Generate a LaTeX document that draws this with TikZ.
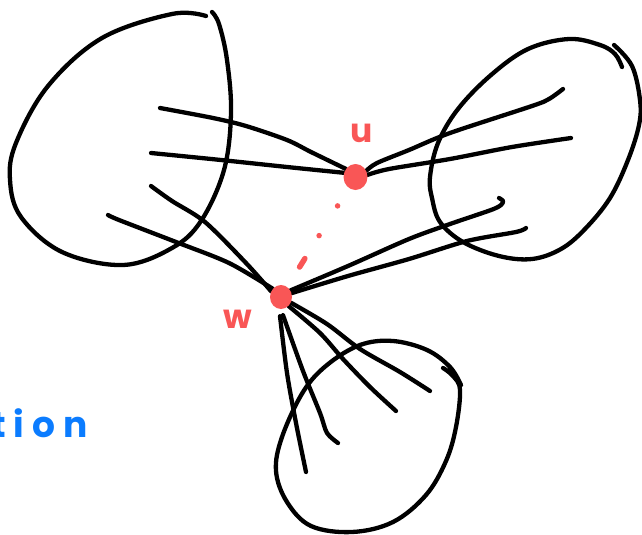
\documentclass[tikz,border=0pt]{standalone}
\usepackage{fontspec}
\usepackage{xcolor}
\usepackage{tikz}
\usetikzlibrary{arrows.meta,positioning,calc,backgrounds,shapes.geometric}
\newfontfamily\handfont{Poppins}
\definecolor{cInk}{HTML}{000000}
\definecolor{cRed}{HTML}{F95656}
\definecolor{cBlue}{HTML}{0B7CFF}
\tikzset{
  pen/.style={draw=cInk,line width=4.3pt,line cap=round,line join=round},
  blob/.style={pen},
  vtx/.style={ellipse,fill=cRed,draw=none,inner sep=0pt,minimum width=#1,minimum height=#1+2pt},
  vtx/.default=23pt,
  lbl/.style={font=\handfont\bfseries\fontsize{33}{33}\selectfont,text=cRed,inner sep=0pt},
  hint/.style={font=\handfont\bfseries\fontsize{36}{36}\selectfont\addfontfeatures{LetterSpace=22},text=cBlue,inner sep=0pt},
  link/.style={draw=cRed,line width=5.5pt,line cap=round,dash pattern=on 0pt off 34pt on 0pt off 35pt on 0pt off 27pt on 10pt off 60pt},
}

\begin{document}
\begin{tikzpicture}[x=1pt,y=-1pt]
  \useasboundingbox (0,0) rectangle (642,535);
  \clip (0,0) rectangle (642,535);
  \node[vtx=24pt] (u) at (355.5,177) {};
  \node[vtx=22pt] (w) at (281,297) {};
  \node[lbl] (ulab) at (362,133) {u};
  \node[lbl] (wlab) at (238,319) {w};
  \node[hint,anchor=base west] (tail) at (-9,437) {tion};
  \begin{scope}[on background layer]
    \draw[blob] plot[smooth,tension=0.6] coordinates {(212,12) (219,24) (227,60) (231,113) (224,170) (201,221) (172,248) (123,265) (62,252) (21,217) (10,180) (16,143) (48,86) (102,38) (172,14) (206,16)};
    \draw[blob] plot[smooth,tension=0.6] coordinates {(614,45) (632,66) (640,100) (639,125) (628,160) (610,198) (585,229) (561,249) (532,259) (499,256) (463,242) (440,222) (432,198) (430,177) (438,143) (458,109) (491,75) (528,49) (569,39) (600,45) (615,54) (622,67)};
    \draw[blob] plot[smooth,tension=0.6] coordinates {(443,368) (453,376) (460,390) (456,427) (446,461) (426,495) (393,522) (352,532) (311,526) (287,502) (276,471) (282,437) (303,392) (327,365) (360,345) (393,341) (427,350) (450,367) (461,385)};
    \draw[pen] plot[smooth] coordinates {(u.140) (311,152) (287,140) (246,126) (213,118) (160,108)};
    \draw[pen] plot[smooth] coordinates {(u.160) (287,167) (221,160) (151,153)};
    \draw[pen] plot[smooth] coordinates {(u.30) (377,163) (409,150) (450,133) (532,106) (549,99) (563,89)};
    \draw[pen] plot[smooth] coordinates {(u.10) (389,169) (450,159) (512,147) (571,138)};
    \draw[pen] plot[smooth] coordinates {(w.150) (246,263) (205,222) (172,201) (151,186)};
    \draw[pen] plot[smooth] coordinates {(w.135) (229,263) (176,242) (119,220) (108,215)};
    \draw[pen] plot[smooth] coordinates {(w.35) (348,266) (409,239) (450,224) (491,210) (501,205) (503,201) (499,198)};
    \draw[pen] plot[smooth] coordinates {(w.20) (348,276) (409,259) (467,241) (516,232) (526,228)};
    \draw[pen] plot[smooth] coordinates {($(w.south)+(-1,7)$) (287,373) (296,423) (306,472)};
    \draw[pen] plot[smooth] coordinates {($(w.south)+(2,6)$) (303,371) (320,413) (327,433) (338,443)};
    \draw[pen] plot[smooth] coordinates {(w.310) (320,333) (343,359) (370,387) (396,411)};
    \draw[pen] plot[smooth] coordinates {(w.330) (327,324) (360,349) (400,372) (430,391)};
    \draw[link] (u.center) -- (w.center);
  \end{scope}
\end{tikzpicture}
\end{document}
